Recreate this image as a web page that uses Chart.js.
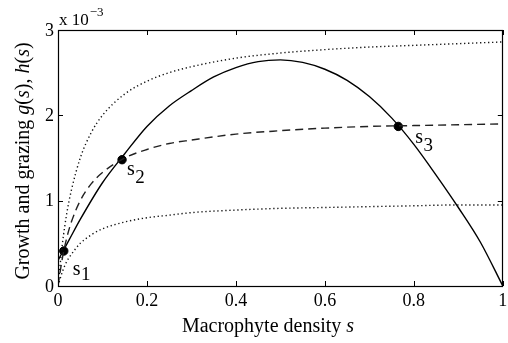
<!DOCTYPE html>
<html>
<head>
<meta charset="utf-8">
<script src="https://cdn.jsdelivr.net/npm/chart.js@4.4.1/dist/chart.umd.min.js"></script>
<style>
  html, body { margin: 0; padding: 0; background: #fff; }
  #wrap { width: 508px; height: 343px; position: relative; }
</style>
</head>
<body>
<div id="wrap"><canvas id="c" width="508" height="343"></canvas></div>
<script>
// ---- data (values in units of 1e-3) ----
const sGrid   = [0, 0.01, 0.02, 0.03, 0.05, 0.075, 0.1, 0.15, 0.2, 0.25, 0.3, 0.4, 0.5, 0.6, 0.7, 0.8, 0.9, 1.0];
const hHigh   = [0, 0.50, 0.86, 1.12, 1.50, 1.80, 2.00, 2.25, 2.40, 2.50, 2.57, 2.67, 2.73, 2.77, 2.80, 2.82, 2.84, 2.86];
const hMid    = [0, 0.33, 0.57, 0.75, 1.00, 1.20, 1.33, 1.50, 1.60, 1.67, 1.71, 1.78, 1.82, 1.85, 1.87, 1.88, 1.89, 1.90];
const hLow    = [0, 0.17, 0.29, 0.37, 0.50, 0.60, 0.67, 0.75, 0.80, 0.83, 0.86, 0.89, 0.91, 0.92, 0.93, 0.94, 0.95, 0.95];

const gS      = [0, 0.025, 0.05, 0.1, 0.15, 0.2, 0.25, 0.3, 0.35, 0.4, 0.45, 0.5, 0.55, 0.6, 0.65, 0.7, 0.75, 0.8, 0.85, 0.9, 0.95, 1.0];
const gVals   = [0.30, 0.54, 0.78, 1.21, 1.55, 1.87, 2.11, 2.29, 2.45, 2.56, 2.63, 2.65, 2.62, 2.54, 2.41, 2.22, 1.97, 1.66, 1.30, 0.92, 0.51, 0.0];

const eqS     = [0.013, 0.144, 0.765];
const eqVals  = [0.41, 1.48, 1.87];
const eqNames = ['1', '2', '3'];

const xTicks  = [0, 0.2, 0.4, 0.6, 0.8, 1];
const xTickLabels = ['0', '0.2', '0.4', '0.6', '0.8', '1'];
const yTicks  = [0, 1, 2, 3];
const yTickLabels = ['0', '1', '2', '3'];

const pts = (xs, ys) => xs.map((x, i) => ({x: x, y: ys[i]}));
const SERIF = '"Liberation Serif", "DejaVu Serif", serif';

const decor = {
  id: 'decor',
  afterDraw(chart) {
    const ctx = chart.ctx, a = chart.chartArea;
    const xs = chart.scales.x, ys = chart.scales.y;
    ctx.save();
    // frame
    ctx.strokeStyle = '#000'; ctx.lineWidth = 1.2;
    ctx.strokeRect(Math.round(a.left) + 0.5, Math.round(a.top) + 0.5, Math.round(a.right - a.left) - 1, Math.round(a.bottom - a.top));
    // inward ticks
    const tl = 5;
    ctx.lineWidth = 1;
    ctx.beginPath();
    xTicks.forEach(v => {
      const px = Math.round(xs.getPixelForValue(v)) + 0.5;
      ctx.moveTo(px, a.bottom); ctx.lineTo(px, a.bottom - tl);
      ctx.moveTo(px, a.top); ctx.lineTo(px, a.top + tl);
    });
    yTicks.forEach(v => {
      const py = Math.round(ys.getPixelForValue(v)) + 0.5;
      ctx.moveTo(a.left, py); ctx.lineTo(a.left + tl, py);
      ctx.moveTo(a.right, py); ctx.lineTo(a.right - tl, py);
    });
    ctx.stroke();

    ctx.fillStyle = '#000';
    // tick labels
    ctx.font = '18px ' + SERIF;
    ctx.textBaseline = 'middle';
    ctx.textAlign = 'center';
    xTicks.forEach((v, i) => ctx.fillText(xTickLabels[i], xs.getPixelForValue(v), a.bottom + 15));
    ctx.textAlign = 'right';
    yTicks.forEach((v, i) => ctx.fillText(yTickLabels[i], a.left - 4, ys.getPixelForValue(v) + 1));

    // equilibrium labels s_1, s_2, s_3
    ctx.textBaseline = 'alphabetic';
    ctx.textAlign = 'left';
    const offs = [[9, 24, 5], [5, 15, 8], [17, 17, 8]];
    eqS.forEach((s, i) => {
      const px = xs.getPixelForValue(s) + offs[i][0];
      const py = ys.getPixelForValue(eqVals[i]) + offs[i][1];
      ctx.font = '20px ' + SERIF;
      ctx.fillText('s', px, py);
      const w = ctx.measureText('s').width;
      ctx.font = '19px ' + SERIF;
      ctx.fillText(eqNames[i], px + w + 0.5, py + offs[i][2]);
    });

    // exponent label
    ctx.font = '17px ' + SERIF;
    ctx.fillText('x 10', a.left + 1, a.top - 5);
    const w10 = ctx.measureText('x 10').width;
    ctx.font = '13px ' + SERIF;
    ctx.fillText('\u22123', a.left + 1 + w10 + 1, a.top - 14);

    // helper for mixed italic strings
    function mixed(parts, size) {
      const widths = parts.map(p => { ctx.font = (p[1] ? 'italic ' : '') + size + 'px ' + SERIF; return ctx.measureText(p[0]).width; });
      const total = widths.reduce((u, v) => u + v, 0);
      let x = -total / 2;
      parts.forEach((p, i) => {
        ctx.font = (p[1] ? 'italic ' : '') + size + 'px ' + SERIF;
        ctx.fillText(p[0], x, 0);
        x += widths[i];
      });
    }
    // x title
    ctx.save();
    ctx.translate(268, 332);
    mixed([['Macrophyte density ', false], ['s', true]], 20);
    ctx.restore();
    // y title
    ctx.save();
    ctx.translate(29, 161);
    ctx.rotate(-Math.PI / 2);
    mixed([['Growth and grazing ', false], ['g', true], ['(', false], ['s', true], ['), ', false], ['h', true], ['(', false], ['s', true], [')', false]], 20);
    ctx.restore();
    ctx.restore();
  }
};

new Chart(document.getElementById('c'), {
  type: 'scatter',
  data: {
    datasets: [
      { data: pts(sGrid, hHigh), showLine: true, borderColor: '#111', borderWidth: 1.4, borderDash: [1.3, 2.7], pointRadius: 0, cubicInterpolationMode: 'monotone' },
      { data: pts(sGrid, hLow), showLine: true, borderColor: '#111', borderWidth: 1.4, borderDash: [1.3, 2.7], pointRadius: 0, cubicInterpolationMode: 'monotone' },
      { data: pts(sGrid, hMid), showLine: true, borderColor: '#222', borderWidth: 1.4, borderDash: [8, 5], pointRadius: 0, cubicInterpolationMode: 'monotone' },
      { data: pts(gS, gVals), showLine: true, borderColor: '#000', borderWidth: 1.4, pointRadius: 0, cubicInterpolationMode: 'monotone' },
      { data: pts(eqS, eqVals), showLine: false, pointRadius: 4.2, pointBackgroundColor: '#000', pointBorderColor: '#000' }
    ]
  },
  options: {
    responsive: false,
    animation: false,
    events: [],
    layout: { padding: { top: 30, right: 2, left: 0, bottom: 0 } },
    plugins: { legend: { display: false }, tooltip: { enabled: false } },
    scales: {
      x: {
        type: 'linear', min: 0, max: 1,
        grid: { display: false },
        border: { display: false },
        afterBuildTicks: s => { s.ticks = xTicks.map(v => ({ value: v })); },
        afterFit: s => { s.height = 57; },
        ticks: { display: false }
      },
      y: {
        type: 'linear', min: 0, max: 3,
        grid: { display: false },
        border: { display: false },
        afterBuildTicks: s => { s.ticks = yTicks.map(v => ({ value: v })); },
        afterFit: s => { s.width = 58; },
        ticks: { display: false }
      }
    }
  },
  plugins: [decor]
});
</script>
</body>
</html>
